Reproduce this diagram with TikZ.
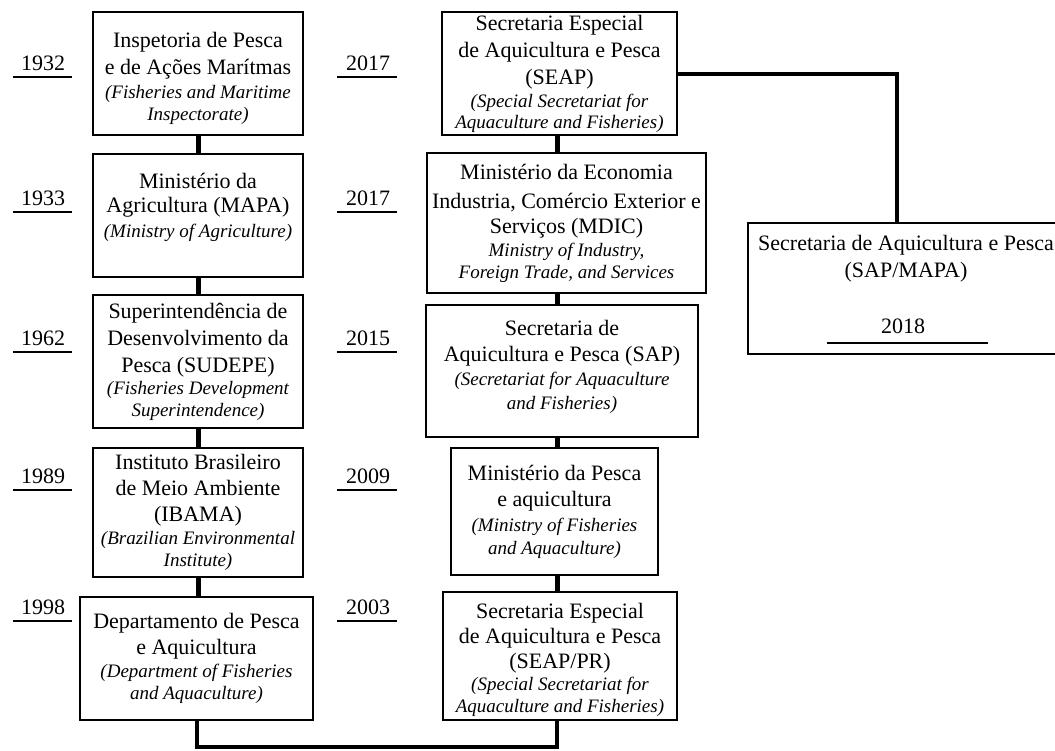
\documentclass[tikz,border=0pt]{standalone}
\usepackage{fontspec}
\setmainfont{Liberation Serif}
\newcommand\romf{\fontsize{22}{27}\selectfont}
\newcommand\itaf{\fontsize{19}{22}\selectfont\itshape}
\newcommand\topstrut[1]{\rule{0pt}{#1}}
\newcommand\botstrut[1]{\rule[-#1]{0pt}{#1}}
\begin{document}
\begin{tikzpicture}[x=1pt,y=-1pt,
  box/.style={draw, line width=2.5pt, inner sep=0pt, align=center, font=\romf},
  txt/.style={inner sep=0pt, align=center, font=\romf},
  link/.style={line width=5pt},
  thinlink/.style={line width=4pt},
  yline/.style={line width=2.5pt},
  yr/.style={font=\romf, anchor=base, inner sep=0pt}]
\useasboundingbox (0,0) rectangle (1055,750);

% left column
\node[box, minimum width=210, minimum height=123] (l1) at (198,73.5)
  {\topstrut{26pt}Inspetoria de Pesca\\e de Ações Marítmas\\[-3pt]\itaf (Fisheries and Maritime\\[-5pt]\itaf Inspectorate)};
\node[box, minimum width=210, minimum height=123] (l2) at (198,215.5)
  {Ministério da\\[-3pt]Agricultura (MAPA)\\[-2pt]\itaf (Ministry of Agriculture)\botstrut{21pt}};
\node[box, minimum width=210, minimum height=133] (l3) at (198,361.5)
  {Superintendência de\\Desenvolvimento da\\Pesca (SUDEPE)\\[-5pt]\itaf (Fisheries Development\\[-5pt]\itaf Superintendence)};
\node[box, minimum width=210, minimum height=129] (l4) at (198,512.5)
  {Instituto Brasileiro\\[-1pt]de Meio Ambiente\\[-1pt](IBAMA)\\[-4pt]\itaf (Brazilian Environmental\\[-5pt]\itaf Institute)};
\node[box, minimum width=233, minimum height=123] (l5) at (196.5,658.5)
  {Departamento de Pesca\\[-1pt]e Aquicultura\\[-4pt]\itaf (Department of Fisheries\\[-5pt]\itaf and Aquaculture)};

% right column
\node[box, minimum width=235, minimum height=123] (r1) at (559.5,73.5)
  {Secretaria Especial\\de Aquicultura e Pesca\\(SEAP)\\[-4pt]\itaf (Special Secretariat for\\[-6pt]\itaf Aquaculture and Fisheries)};
\node[box, minimum width=279, minimum height=140] (r2) at (566.5,223)
  {Ministério da Economia\\[2pt]Industria, Comércio Exterior e\\[-2pt]Serviços (MDIC)\\[-4pt]\itaf Ministry of Industry,\\[-5pt]\itaf Foreign Trade, and Services};
\node[box, minimum width=272, minimum height=132] (r3) at (562,371)
  {Secretaria de\\[-1pt]Aquicultura e Pesca (SAP)\\[-3pt]\itaf (Secretariat for Aquaculture\\[-3pt]\itaf and Fisheries)\botstrut{12pt}};
\node[box, minimum width=207, minimum height=127] (r4) at (554.5,511.5)
  {Ministério da Pesca\\[-1pt]e aquicultura\\[-2pt]\itaf (Ministry of Fisheries\\[-4pt]\itaf and Aquaculture)};
\node[box, minimum width=234, minimum height=128] (r5) at (560,656)
  {\topstrut{24pt}Secretaria Especial\\[-2pt]de Aquicultura e Pesca\\[-2pt](SEAP/PR)\\[-5pt]\itaf (Special Secretariat for\\[-5pt]\itaf Aquaculture and Fisheries)};

% far right box
\node[box, minimum width=317, minimum height=131] (fr) at (906.5,288.5) {};
\node[txt, anchor=north] (frt) at (906,235) {Secretaria de Aquicultura e Pesca\\(SAP/MAPA)};

% connectors left
\draw[link] (l1.south) -- (l2.north);
\draw[link] (l2.south) -- (l3.north);
\draw[link] (l3.south) -- (l4.north);
\draw[link] (l4.south) -- (l4.south |- l5.north);

% connectors right
\coordinate (rx) at (557,0);
\draw[link] (r1.south -| rx) -- (r2.north -| rx);
\draw[link] (r2.south -| rx) -- (r3.north -| rx);
\draw[link] (r3.south -| rx) -- (r4.north -| rx);
\draw[link] (r4.south -| rx) -- (r5.north -| rx);

% bottom connector
\coordinate (bl) at (197,747);
\coordinate (br) at (557,747);
\draw[thinlink] (l5.south -| bl) -- (bl) -- (br) -- (br |- r5.south);

% top connector to far right box
\coordinate (tap) at (897,73.5);
\draw[thinlink] (r1.east) -- (tap) -- (tap |- fr.north);

% year labels left
\foreach \nm/\yy/\lab in {a/77/1932, b/212/1933, c/352/1962, d/490/1989, e/621/1998}{
  \coordinate (yl\nm a) at (13,\yy);
  \coordinate (yl\nm b) at (72,\yy);
  \draw[yline] (yl\nm a) -- (yl\nm b);
  \node[yr] (yt\nm) at (43,\yy-7) {\lab};
}
% year labels right
\foreach \nm/\yy/\lab in {a/77/2017, b/212/2017, c/352/2015, d/490/2009, e/621/2003}{
  \coordinate (yr\nm a) at (337,\yy);
  \coordinate (yr\nm b) at (397,\yy);
  \draw[yline] (yr\nm a) -- (yr\nm b);
  \node[yr] (ytr\nm) at (368,\yy-7) {\lab};
}
% 2018
\coordinate (yfa) at (827,343);
\coordinate (yfb) at (988,343);
\draw[yline] (yfa) -- (yfb);
\node[yr] (ytf) at (903,333) {2018};
\end{tikzpicture}
\end{document}
